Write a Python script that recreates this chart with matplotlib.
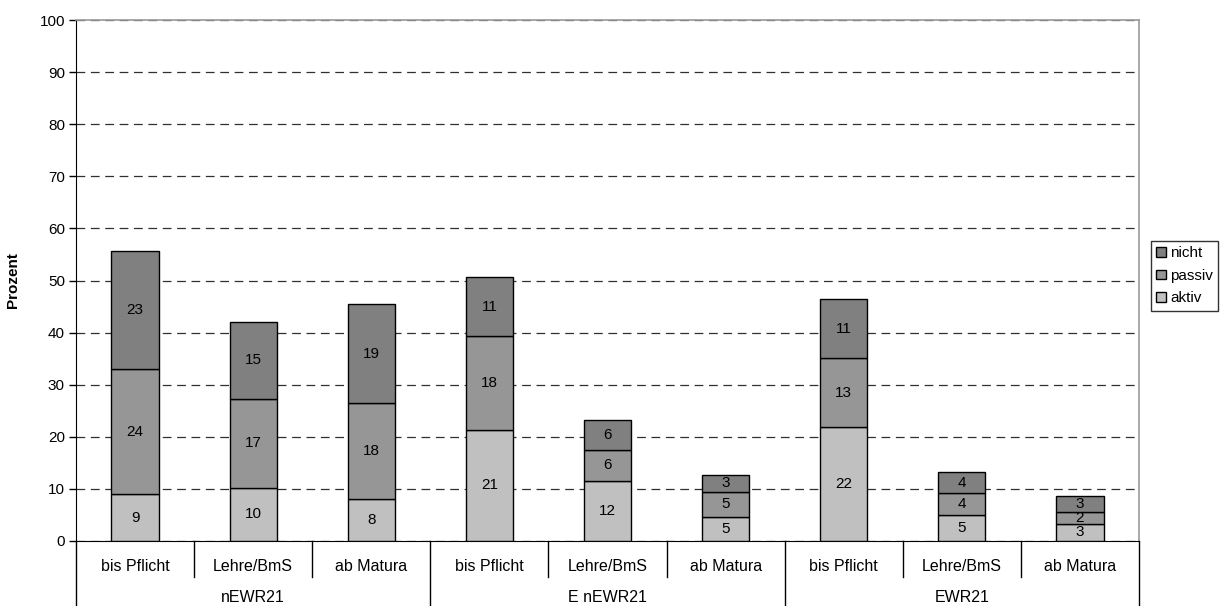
import matplotlib
matplotlib.use("Agg")
import matplotlib.pyplot as plt
import numpy as np

plt.rcParams['font.family'] = ['Liberation Sans', 'DejaVu Sans']

categories = ["bis Pflicht", "Lehre/BmS", "ab Matura"] * 3
groups = ["nEWR21", "E nEWR21", "EWR21"]
aktiv = [9.0, 10.2, 8.0, 21.4, 11.6, 4.6, 21.8, 4.9, 3.3]
passiv = [24.0, 17.1, 18.4, 17.9, 5.9, 4.9, 13.3, 4.3, 2.2]
nicht = [22.6, 14.7, 19.0, 11.3, 5.7, 3.2, 11.3, 4.0, 3.2]
series_names = ["aktiv", "passiv", "nicht"]
colors = ["#C0C0C0", "#969696", "#808080"]
yticks = list(range(0, 101, 10))

FS = 11
W, H = 1221, 606
fig = plt.figure(figsize=(W / 100, H / 100), dpi=100)
left, right, top, bottom = 76, 1139, 20, 541
ax = fig.add_axes([left / W, 1 - bottom / H, (right - left) / W, (bottom - top) / H])

x = np.arange(len(categories))
base = np.zeros(len(categories))
handles = []
for name, vals, c in zip(series_names, [aktiv, passiv, nicht], colors):
    v = np.array(vals)
    b = ax.bar(x, v, 0.4, bottom=base, color=c, edgecolor="black", linewidth=1.0,
               label=name, zorder=3)
    ax.bar_label(b, labels=[f"{int(round(val))}" for val in v], label_type="center",
                 fontsize=FS, zorder=4)
    handles.append(b)
    base += v

ax.set_xlim(-0.5, len(categories) - 0.5)
ax.set_ylim(0, 100)
ax.set_yticks(yticks)
ax.tick_params(axis="y", direction="out", length=5, width=1, labelsize=FS, pad=3)
ax.set_xticks([])
ax.yaxis.grid(True, linestyle=(0, (7, 4.5)), color="#303030", linewidth=0.9, zorder=0)
ax.set_axisbelow(True)
for s in ["top", "right"]:
    ax.spines[s].set_color("#9a9a9a")
    ax.spines[s].set_linewidth(1.2)
ax.spines["left"].set_color("black")
ax.spines["bottom"].set_color("black")

ax.set_ylabel("Prozent", fontsize=FS, fontweight="bold", labelpad=14)

# category labels and separators below
trans = ax.get_xaxis_transform()
ph = bottom - top
y_cat = -(566.5 - bottom) / ph
y_grp = -(598 - bottom) / ph
y_short = -(577 - bottom) / ph
y_long = -(H - bottom) / ph
for i, cat in enumerate(categories):
    ax.text(i, y_cat, cat, transform=trans, ha="center", va="center", fontsize=11.5)
for i in range(len(categories) + 1):
    xs = i - 0.5
    yend = y_long if i % 3 == 0 else y_short
    ax.plot([xs, xs], [0, yend], transform=trans, color="black", linewidth=1.0,
            clip_on=False)
for g, name in enumerate(groups):
    ax.text(g * 3 + 1, y_grp, name, transform=trans, ha="center", va="center", fontsize=11.5)

leg = fig.legend(handles[::-1], series_names[::-1], loc="upper left",
                 bbox_to_anchor=(1151 / W, 1 - 241 / H), frameon=True, fancybox=False,
                 edgecolor="black", fontsize=FS, handlelength=0.6, handleheight=0.6,
                 handletextpad=0.3, borderpad=0.35, labelspacing=0.55, borderaxespad=0)
leg.get_frame().set_linewidth(1.0)

fig.savefig("out.png", dpi=100)
